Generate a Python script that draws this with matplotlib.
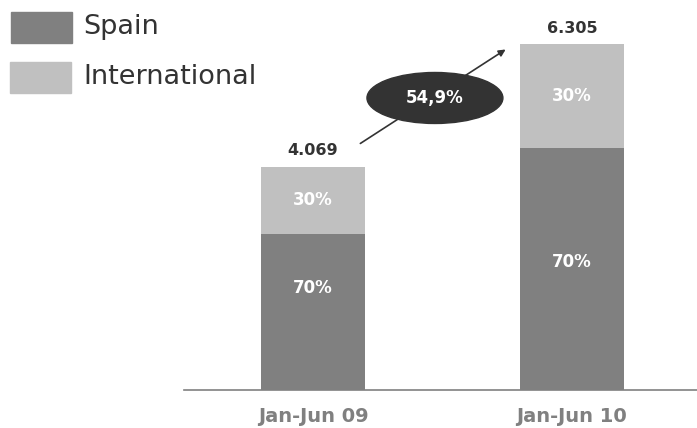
import matplotlib.pyplot as plt
from matplotlib.patches import Ellipse, Rectangle

plt.rcParams["font.family"] = ["DejaVu Sans"]

# Dados
periodos = ["Jan-Jun 09", "Jan-Jun 10"]
totais = [4069, 6305]
totais_txt = ["4.069", "6.305"]
pct_spain = [70, 70]
pct_intl = [30, 30]
crescimento = "54,9%"

spain = [t * p / 100 for t, p in zip(totais, pct_spain)]
intl = [t * p / 100 for t, p in zip(totais, pct_intl)]

# Posição relativa dos rótulos dentro das barras
pos_rotulo_spain = [0.65, 0.53]

COR_SPAIN = "#808080"
COR_INTL = "#c0c0c0"
COR_ESCURA = "#333333"

fig = plt.figure(figsize=(6.97, 4.28), dpi=100)
ax = fig.add_axes([0.264, 0.0888, 0.736, 0.9112])

x = [0, 1]
largura = 0.40
ax.bar(x, spain, width=largura, color=COR_SPAIN)
ax.bar(x, intl, width=largura, bottom=spain, color=COR_INTL)

ax.set_xlim(-0.498, 1.483)
ax.set_ylim(0, 7105)

for xi, s, i, t, txt, ps, pi, fr in zip(x, spain, intl, totais, totais_txt,
                                        pct_spain, pct_intl, pos_rotulo_spain):
    ax.text(xi, s * fr, f"{ps}%", ha="center", va="center",
            color="white", fontsize=12, fontweight="bold")
    ax.text(xi, s + i * 0.5, f"{pi}%", ha="center", va="center",
            color="white", fontsize=12, fontweight="bold")
    ax.text(xi, t + 150, txt, ha="center", va="bottom",
            color=COR_ESCURA, fontsize=11.5, fontweight="bold")

# Seta de crescimento
ax.annotate("", xy=(0.753, 6231), xytext=(0.174, 4464),
            arrowprops=dict(arrowstyle="-|>", color=COR_ESCURA, lw=1.2,
                            mutation_scale=10))
ax.add_patch(Ellipse((0.471, 5320), 0.525, 929, color=COR_ESCURA, zorder=3))
ax.text(0.471, 5320, crescimento, ha="center", va="center",
        color="white", fontsize=12, fontweight="bold", zorder=4)

for lado in ["top", "right", "left"]:
    ax.spines[lado].set_visible(False)
ax.spines["bottom"].set_color("#808080")
ax.spines["bottom"].set_linewidth(1.2)
ax.set_yticks([])
ax.set_xticks(x)
ax.set_xticklabels(periodos, fontsize=14, fontweight="bold", color="#808080")
ax.tick_params(axis="x", length=0, pad=12)

# Legenda desenhada à mão (coordenadas da figura)
W, H = 697, 428
legenda = [("Spain", COR_SPAIN, 11, 27), ("International", COR_INTL, 10, 77)]
for nome, cor, x0, yc in legenda:
    fig.patches.append(Rectangle((x0 / W, 1 - (yc + 15.5) / H), 61 / W, 31 / H,
                                 color=cor, transform=fig.transFigure))
    fig.text(83 / W, 1 - yc / H, nome, ha="left", va="center",
             fontsize=19.5, color=COR_ESCURA)

fig.savefig("out.png", dpi=100)
